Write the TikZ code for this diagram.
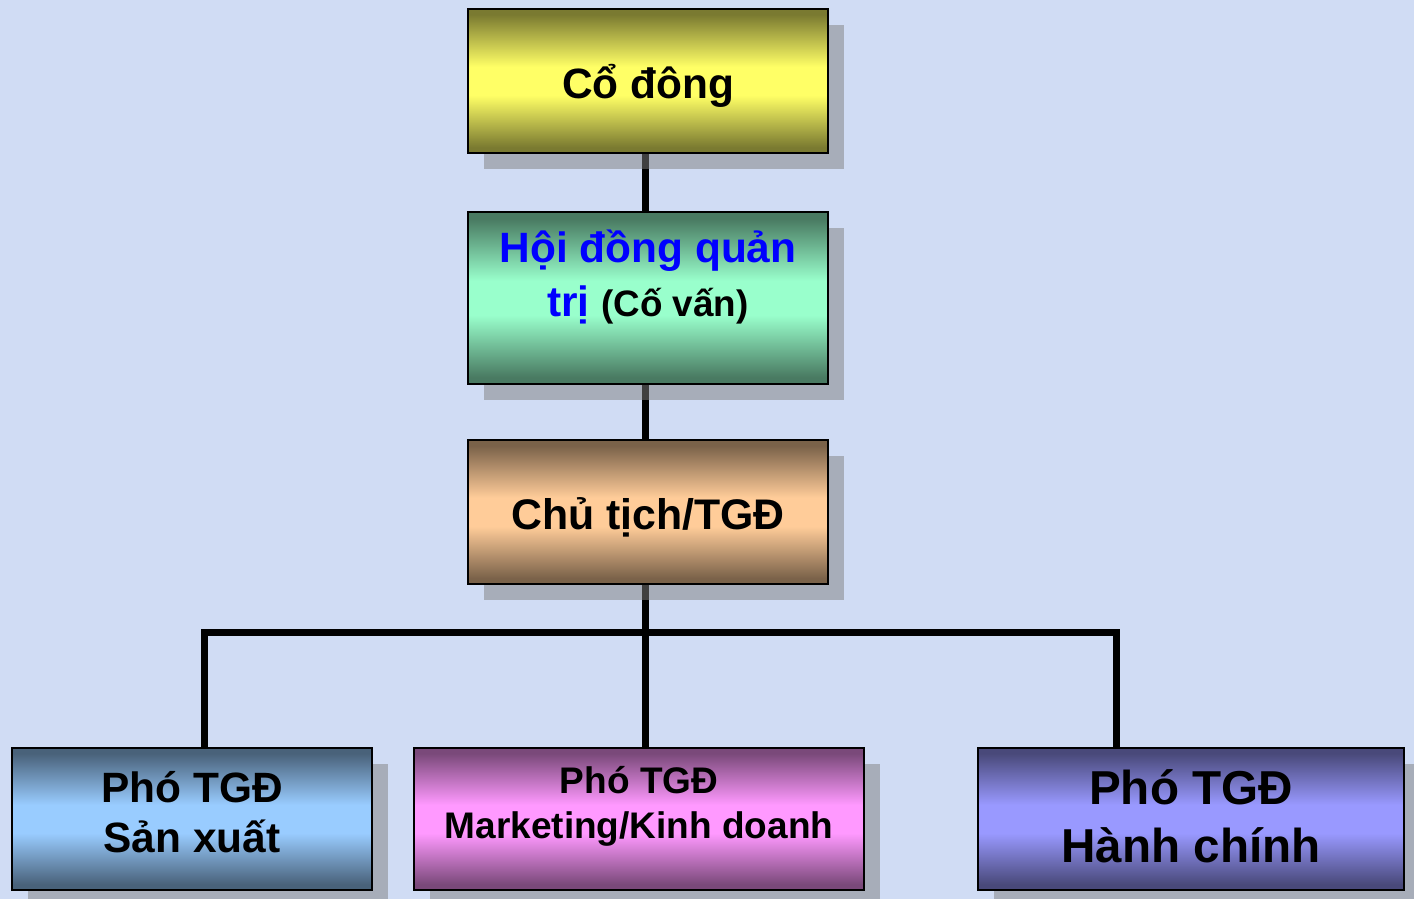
\documentclass[tikz,border=0pt]{standalone}
\usepackage{fontspec}
\setmainfont{Liberation Sans}
\usepackage{xcolor}
\usepackage{tikz}
\usetikzlibrary{positioning,shadows,calc}

\definecolor{bgblue}{RGB}{208,220,244}
\definecolor{cyellow}{RGB}{255,255,102}
\definecolor{cgreen}{RGB}{153,255,204}
\definecolor{ctan}{RGB}{255,204,153}
\definecolor{cblue}{RGB}{153,204,255}
\definecolor{cpink}{RGB}{255,153,255}
\definecolor{cpurple}{RGB}{153,153,255}
\definecolor{tblue}{RGB}{0,0,255}

% dark edges, light band in the middle (path covers 25bp..75bp)
\newcommand\boxshading[1]{%
  \pgfdeclareverticalshading{band#1}{100bp}{color(0bp)=(#1!48!black);
    color(27bp)=(#1!48!black); color(45bp)=(#1); color(55bp)=(#1);
    color(73bp)=(#1!48!black); color(100bp)=(#1!48!black)}}
\boxshading{cyellow}
\boxshading{cgreen}
\boxshading{ctan}
\boxshading{cblue}
\boxshading{cpink}
\boxshading{cpurple}

\pgfdeclarelayer{backdrop}
\pgfdeclarelayer{wires}
\pgfsetlayers{backdrop,wires,main}

\begin{document}
\begin{tikzpicture}[x=0.5pt, y=-0.5pt,
  orgbox/.style={draw=black, line width=0.8pt, minimum width=180pt, minimum height=72pt,
    inner sep=0pt,
    drop shadow={shadow xshift=8pt, shadow yshift=-8pt, fill=black!50, opacity=0.5}},
  shadeof/.style={shade, shading=band#1},
  boxtext/.style={align=center, inner sep=0pt, font=\bfseries\fontsize{21.2}{25}\selectfont},
  wire/.style={line width=3.5pt, line join=miter}]
  % page = 1414 x 899 px, 1px = 0.5pt, y grows downwards
  \useasboundingbox (0,0) rectangle (1414,899);
  \begin{pgfonlayer}{backdrop}
    \fill[bgblue] (0,0) rectangle (1414,899);
  \end{pgfonlayer}
  % top chain
  \node[orgbox, shadeof=cyellow] (codong) at (648,81) {};
  \node[boxtext] (codongtext) at ([yshift=-2.5pt]codong.center) {Cổ đông};
  \node[orgbox, shadeof=cgreen, minimum height=86pt] (hdqt) at (648,298) {};
  \node[boxtext, font=\bfseries\fontsize{21.2}{27}\selectfont,
    below=9pt of hdqt.north] (hdqttext)
    {\textcolor{tblue}{Hội đồng quản}\\
     \textcolor{tblue}{trị} {\fontsize{18.4}{22}\selectfont(Cố vấn)}};
  \node[orgbox, shadeof=ctan] (chutich) at (648,512) {};
  \node[boxtext, font=\bfseries\fontsize{21.4}{25}\selectfont] (chutichtext)
    at ([yshift=-2.5pt]chutich.center) {Chủ tịch/TGĐ};
  % deputies
  \node[orgbox, shadeof=cblue, minimum height=71pt] (pgsx) at (192,819) {};
  \node[boxtext] (pgsxtext) at ([yshift=3.5pt]pgsx.center) {Phó TGĐ\\Sản xuất};
  \node[orgbox, shadeof=cpink, minimum width=225pt, minimum height=71pt] (pgkd) at (639,819) {};
  \node[boxtext, font=\bfseries\fontsize{18.5}{22.5}\selectfont] (pgkdtext)
    at ([yshift=6.5pt]pgkd.center) {Phó TGĐ\\Marketing/Kinh doanh};
  \node[orgbox, shadeof=cpurple, minimum width=213pt, minimum height=71pt] (pghc) at (1191,819) {};
  \node[boxtext, font=\bfseries\fontsize{23.8}{29}\selectfont] (pghctext)
    at ([yshift=1.5pt]pghc.center) {Phó TGĐ\\Hành chính};
  % connectors (under the shadows)
  \coordinate (busL) at (204,632);
  \coordinate (busR) at (1116,632);
  \coordinate (trunk) at ([xshift=-1.5pt]chutich.south);
  \begin{pgfonlayer}{wires}
    \draw[wire] ([xshift=-1.5pt]codong.south) -- ([xshift=-1.5pt]hdqt.north);
    \draw[wire] ([xshift=-1.5pt]hdqt.south) -- (trunk |- chutich.north);
    \draw[wire] (trunk) -- (trunk |- pgkd.north);
    \draw[wire] (busL |- pgsx.north) -- (busL) -- (busR) -- (busR |- pghc.north);
  \end{pgfonlayer}
\end{tikzpicture}
\end{document}
